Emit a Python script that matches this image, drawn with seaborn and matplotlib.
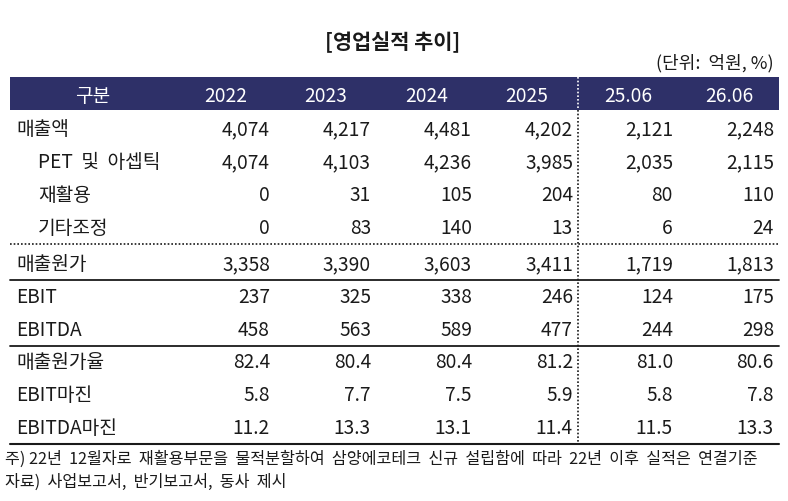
import matplotlib
matplotlib.use("Agg")
import matplotlib.pyplot as plt
import seaborn as sns

sns.set_theme(style="white")
plt.rcParams['font.family'] = ['Noto Sans CJK KR', 'DejaVu Sans']

# table data
title = "[영업실적 추이]"
unit = "(단위:  억원, %)"
columns = ["구분", "2022", "2023", "2024", "2025", "25.06", "26.06"]
row_labels = ["매출액", "PET  및  아셉틱", "재활용", "기타조정", "매출원가",
              "EBIT", "EBITDA", "매출원가율", "EBIT마진", "EBITDA마진"]
indented = [False, True, True, True, False, False, False, False, False, False]
values = [
    ["4,074", "4,217", "4,481", "4,202", "2,121", "2,248"],
    ["4,074", "4,103", "4,236", "3,985", "2,035", "2,115"],
    ["0", "31", "105", "204", "80", "110"],
    ["0", "83", "140", "13", "6", "24"],
    ["3,358", "3,390", "3,603", "3,411", "1,719", "1,813"],
    ["237", "325", "338", "246", "124", "175"],
    ["458", "563", "589", "477", "244", "298"],
    ["82.4", "80.4", "80.4", "81.2", "81.0", "80.6"],
    ["5.8", "7.7", "7.5", "5.9", "5.8", "7.8"],
    ["11.2", "13.3", "13.1", "11.4", "11.5", "13.3"],
]
footnotes = ["주) 22년  12월자로  재활용부문을  물적분할하여  삼양에코테크  신규  설립함에  따라  22년  이후  실적은  연결기준",
             "자료)  사업보고서,  반기보고서,  동사  제시"]

navy = "#2E3068"
ink = "#1a1a1a"

fig = plt.figure(figsize=(7.88, 5.02), dpi=100)
ax = fig.add_axes([0, 0, 1, 1])
ax.set_xlim(0, 788)
ax.set_ylim(502, 0)
ax.axis("off")

left, right = 10, 779
col_right = [270, 371, 472, 573, 673, 774]
col_center = [93, 226, 326, 427, 527, 628, 729]
split_x = 578
fs = 13.8

ax.text(393, 42, title, ha="center", va="center", fontsize=15, fontweight="bold", color=ink)
ax.text(774, 63, unit, ha="right", va="center", fontsize=13, color=ink)

# header band
ax.add_patch(plt.Rectangle((left, 78), right - left, 33, color=navy, lw=0))
for x, c in zip(col_center, columns):
    ax.text(x, 96, c, ha="center", va="center", fontsize=fs, color="white")

# row positions
row_y = [130 + 32.7 * i + (4 if i >= 4 else 0) for i in range(len(row_labels))]

for i, (lab, ind, vals) in enumerate(zip(row_labels, indented, values)):
    y = row_y[i]
    ax.text(38 if ind else 16, y, lab, ha="left", va="center", fontsize=fs, color=ink)
    for x, v in zip(col_right, vals):
        ax.text(x, y, v, ha="right", va="center", fontsize=fs, color=ink)

# separators
ax.plot([left, right], [(row_y[3] + row_y[4]) / 2 - 1] * 2, color=ink, lw=1.2, ls=(0, (1, 1.2)))
ax.plot([left, right], [(row_y[4] + row_y[5]) / 2] * 2, color=ink, lw=1.3)
ax.plot([left, right], [(row_y[6] + row_y[7]) / 2] * 2, color=ink, lw=1.3)
bottom = row_y[-1] + 17
ax.plot([left, right], [bottom] * 2, color=ink, lw=1.5)

# vertical dotted split
ax.plot([split_x, split_x], [78, 111], color="white", lw=1.2, ls=(0, (1, 1.2)))
ax.plot([split_x, split_x], [111, bottom], color=ink, lw=1.2, ls=(0, (1, 1.2)))

ax.text(5, 459, footnotes[0], ha="left", va="center", fontsize=11.65, color=ink)
ax.text(5, 482, footnotes[1], ha="left", va="center", fontsize=11.65, color=ink)

fig.savefig("out.png", dpi=100)
